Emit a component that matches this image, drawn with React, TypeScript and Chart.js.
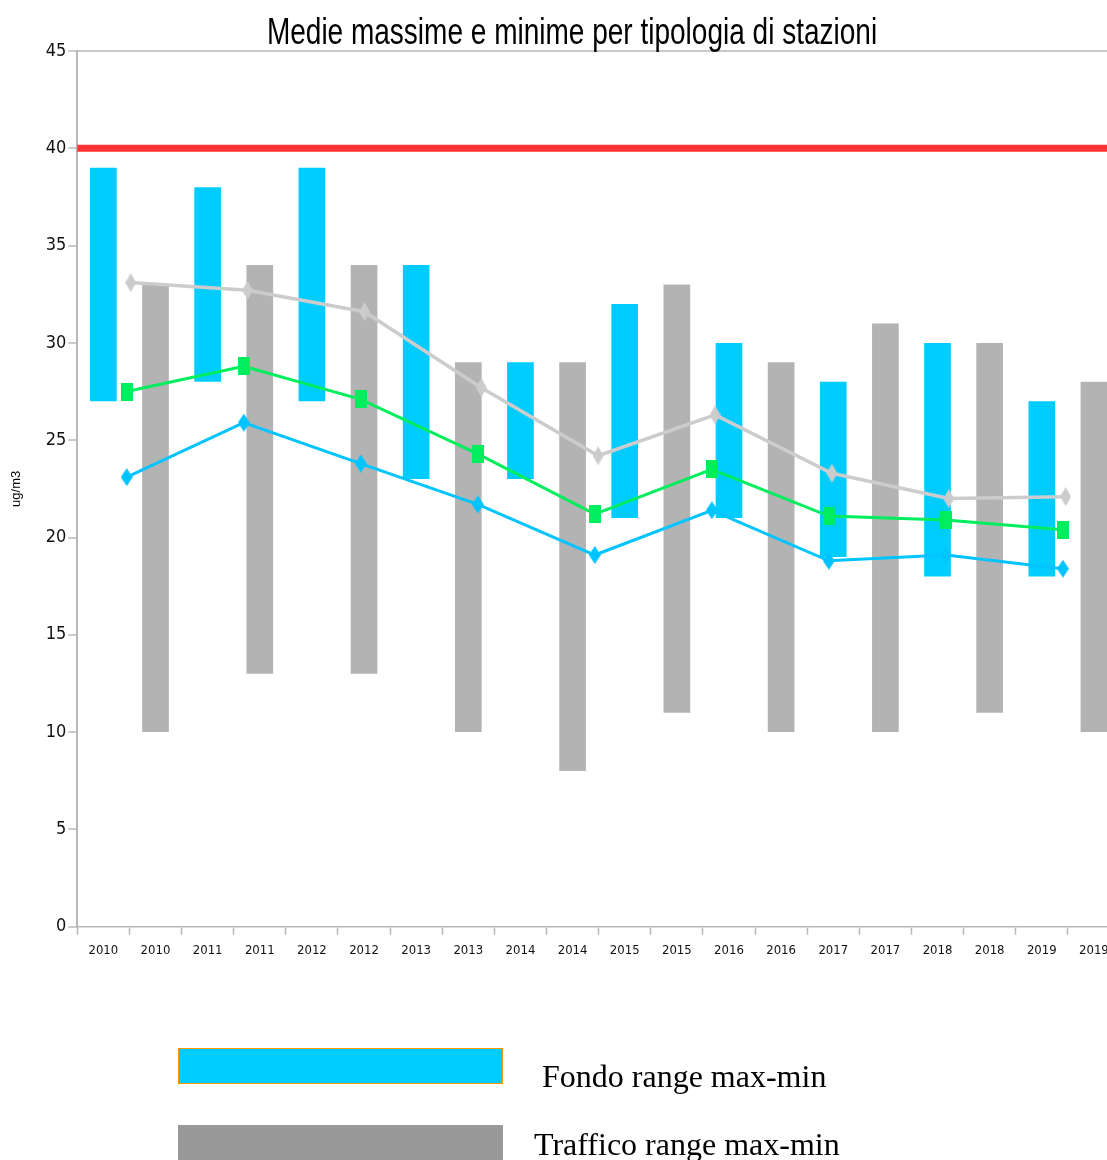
import React, { useEffect, useRef } from "react";
import { Chart, registerables } from "chart.js";

Chart.register(...registerables);

// Years shown on the category axis; each year has a Fondo slot and a Traffico slot.
const YEARS = ["2010", "2011", "2012", "2013", "2014", "2015", "2016", "2017", "2018", "2019"];

// Fondo stations: range of annual means (ug/m3)
const FONDO_MIN = [27, 28, 27, 23, 23, 21, 21, 19, 18, 18];
const FONDO_MAX = [39, 38, 39, 34, 29, 32, 30, 28, 30, 27];

// Traffico stations: range of annual means (ug/m3)
const TRAFFICO_MIN = [10, 13, 13, 10, 8, 11, 10, 10, 11, 10];
const TRAFFICO_MAX = [33, 34, 34, 29, 29, 33, 29, 31, 30, 28];

// Average lines
const MEDIA_TRAFFICO = [33.1, 32.7, 31.6, 27.7, 24.2, 26.3, 23.3, 22.0, 22.1];
const MEDIA_TOTALE = [27.5, 28.8, 27.1, 24.3, 21.2, 23.5, 21.1, 20.9, 20.4];
const MEDIA_FONDO = [23.1, 25.9, 23.8, 21.7, 19.1, 21.4, 18.8, 19.1, 18.4];

// Annual limit value
const LIMIT_VALUE = 40;

const Y_TICKS = { min: 0, max: 45, step: 5 };

const TITLE = "Medie massime e minime per tipologia di stazioni";
const Y_LABEL = "ug/m3";
const FONDO_LABEL = "Fondo range max-min";
const TRAFFICO_LABEL = "Traffico range max-min";

const COLOR_FONDO = "#00ccff";
const COLOR_TRAFFICO = "#b3b3b3";
const COLOR_TRAFFICO_LEGEND = "#999999";
const COLOR_LINE_TRAFFICO = "#cccccc";
const COLOR_LINE_TOTALE = "#00ee5e";
const COLOR_LINE_FONDO = "#00c4ff";
const COLOR_LIMIT = "#ff3333";
const COLOR_AXIS = "#b8b8b8";

const CONDENSED = "'DejaVu Sans Condensed', 'Liberation Sans Narrow', sans-serif";

const CATEGORY_LABELS = YEARS.flatMap((y) => [y, y]);

function makeMarker(shape: "diamond" | "rect", w: number, h: number, color: string) {
  const c = document.createElement("canvas");
  c.width = w;
  c.height = h;
  const g = c.getContext("2d")!;
  g.fillStyle = color;
  if (shape === "diamond") {
    g.beginPath();
    g.moveTo(w / 2, 0);
    g.lineTo(w, h / 2);
    g.lineTo(w / 2, h);
    g.lineTo(0, h / 2);
    g.closePath();
    g.fill();
  } else {
    g.fillRect(0, 0, w, h);
  }
  return c;
}

// Horizontal limit line drawn across the plot area at LIMIT_VALUE
const limitLinePlugin = {
  id: "limitLine",
  beforeDatasetsDraw(chart: any) {
    const { ctx, chartArea, scales } = chart;
    const y = scales.y.getPixelForValue(LIMIT_VALUE);
    ctx.save();
    ctx.strokeStyle = COLOR_LIMIT;
    ctx.lineWidth = 7;
    ctx.beginPath();
    ctx.moveTo(chartArea.left, y);
    ctx.lineTo(chartArea.right, y);
    ctx.stroke();
    ctx.restore();
  },
};

// Narrow title: Liberation Sans squeezed horizontally
const narrowTitlePlugin = {
  id: "narrowTitle",
  afterDraw(chart: any) {
    const { ctx } = chart;
    ctx.save();
    ctx.translate(572, 44);
    ctx.scale(0.778, 1);
    ctx.font = "36px 'Liberation Sans', Arial, sans-serif";
    ctx.fillStyle = "#000";
    ctx.textAlign = "center";
    ctx.textBaseline = "alphabetic";
    ctx.fillText(TITLE, 0, 0);
    ctx.restore();
  },
};

function App() {
  const canvasRef = useRef<HTMLCanvasElement | null>(null);

  useEffect(() => {
    const canvas = canvasRef.current;
    if (!canvas) return;

    const fondoData = CATEGORY_LABELS.map((_, i) =>
      i % 2 === 0 ? [FONDO_MIN[i / 2], FONDO_MAX[i / 2]] : null
    );
    const trafficoData = CATEGORY_LABELS.map((_, i) =>
      i % 2 === 1 ? [TRAFFICO_MIN[(i - 1) / 2], TRAFFICO_MAX[(i - 1) / 2]] : null
    );
    const toPoints = (arr: number[]) => arr.map((v, k) => ({ x: k, y: v }));

    const chart = new Chart(canvas, {
      type: "bar",
      data: {
        labels: CATEGORY_LABELS,
        datasets: [
          {
            type: "line",
            label: "Media traffico",
            data: toPoints(MEDIA_TRAFFICO) as any,
            xAxisID: "xg",
            borderColor: COLOR_LINE_TRAFFICO,
            borderWidth: 3.5,
            pointStyle: makeMarker("diamond", 11, 19, COLOR_LINE_TRAFFICO) as any,
            pointRadius: 6,
            tension: 0,
          },
          {
            type: "line",
            label: "Media",
            data: toPoints(MEDIA_TOTALE) as any,
            xAxisID: "xl",
            borderColor: COLOR_LINE_TOTALE,
            borderWidth: 3,
            pointStyle: makeMarker("rect", 12, 18, COLOR_LINE_TOTALE) as any,
            pointRadius: 6,
            tension: 0,
          },
          {
            type: "line",
            label: "Media fondo",
            data: toPoints(MEDIA_FONDO) as any,
            xAxisID: "xl",
            borderColor: COLOR_LINE_FONDO,
            borderWidth: 3,
            pointStyle: makeMarker("diamond", 12, 18, COLOR_LINE_FONDO) as any,
            pointRadius: 6,
            tension: 0,
          },
          {
            type: "bar",
            label: FONDO_LABEL,
            data: fondoData as any,
            xAxisID: "x",
            backgroundColor: COLOR_FONDO,
            grouped: false,
            barPercentage: 0.512,
            categoryPercentage: 1,
          },
          {
            type: "bar",
            label: TRAFFICO_LABEL,
            data: trafficoData as any,
            xAxisID: "x",
            backgroundColor: COLOR_TRAFFICO,
            grouped: false,
            barPercentage: 0.512,
            categoryPercentage: 1,
          },
        ],
      },
      options: {
        animation: false,
        responsive: false,
        maintainAspectRatio: false,
        layout: { autoPadding: false, padding: { left: 0, right: 0, top: 51, bottom: 193.3 } },
        plugins: {
          legend: { display: false },
          tooltip: { enabled: false },
          title: { display: false },
        },
        scales: {
          x: {
            type: "category",
            offset: true,
            grid: {
              display: true,
              drawOnChartArea: false,
              offset: true,
              tickLength: 8,
              tickColor: COLOR_AXIS,
              tickWidth: 1.5,
            },
            border: { display: true, color: COLOR_AXIS, width: 1.5 },
            ticks: {
              autoSkip: false,
              maxRotation: 0,
              minRotation: 0,
              padding: 8,
              color: "#111",
              font: { family: CONDENSED, size: 13 },
            },
            afterFit: (scale: any) => {
              scale.height = 40;
              scale.paddingLeft = 0;
              scale.paddingRight = 0;
            },
          },
          xl: {
            type: "linear",
            display: false,
            offset: false,
            bounds: "data",
            min: -0.4224,
            max: 8.488,
          },
          xg: {
            type: "linear",
            display: false,
            offset: false,
            bounds: "data",
            min: -0.457,
            max: 8.465,
          },
          y: {
            type: "linear",
            min: Y_TICKS.min,
            max: Y_TICKS.max,
            ticks: {
              stepSize: Y_TICKS.step,
              padding: 2,
              color: "#111",
              font: { family: CONDENSED, size: 18 },
            },
            grid: {
              display: true,
              drawOnChartArea: true,
              color: (ctx: any) =>
                ctx.tick && ctx.tick.value === Y_TICKS.max ? "#c8c8c8" : "rgba(0,0,0,0)",
              lineWidth: 2,
              tickLength: 9,
              tickColor: COLOR_AXIS,
              tickWidth: 1.5,
            },
            border: { display: true, color: COLOR_AXIS, width: 2 },
            title: {
              display: true,
              text: Y_LABEL,
              color: "#000",
              font: { family: "'Liberation Sans', Arial, sans-serif", size: 13 },
              padding: { top: 9, bottom: 0 },
            },
            afterFit: (scale: any) => {
              scale.width = 77.3;
            },
          },
        },
      },
      plugins: [limitLinePlugin, narrowTitlePlugin],
    });

    return () => chart.destroy();
  }, []);

  const serif = "'Liberation Serif', 'Times New Roman', serif";

  return (
    <div
      style={{
        position: "absolute",
        left: 0,
        top: 0,
        width: 1107,
        height: 1160,
        overflow: "hidden",
        background: "#fff",
      }}
    >
      <canvas
        ref={canvasRef}
        width={1120}
        height={1160}
        style={{ position: "absolute", left: 0, top: 0, width: 1120, height: 1160 }}
      />
      <div
        style={{
          position: "absolute",
          left: 178,
          top: 1048,
          width: 325,
          height: 36,
          boxSizing: "border-box",
          background: COLOR_FONDO,
          border: "1.5px solid #ff9900",
        }}
      />
      <div
        style={{
          position: "absolute",
          left: 542,
          top: 1060,
          font: `32px ${serif}`,
          lineHeight: "32px",
          color: "#000",
          whiteSpace: "nowrap",
        }}
      >
        {FONDO_LABEL}
      </div>
      <div
        style={{
          position: "absolute",
          left: 178,
          top: 1125,
          width: 325,
          height: 40,
          background: COLOR_TRAFFICO_LEGEND,
        }}
      />
      <div
        style={{
          position: "absolute",
          left: 534,
          top: 1128,
          font: `32px ${serif}`,
          lineHeight: "32px",
          color: "#000",
          whiteSpace: "nowrap",
        }}
      >
        {TRAFFICO_LABEL}
      </div>
    </div>
  );
}

export default App;
